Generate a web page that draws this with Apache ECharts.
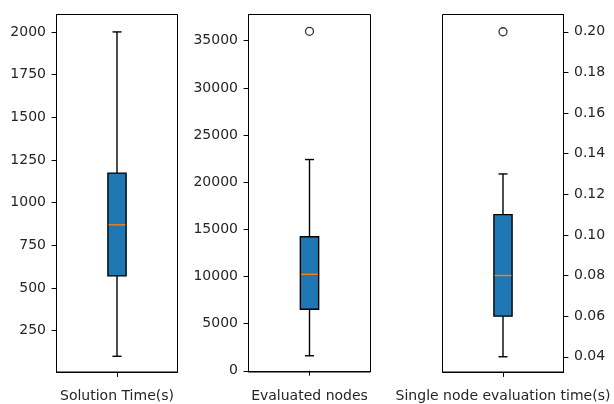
<!DOCTYPE html>
<html><head><meta charset="utf-8">
<script src="https://cdn.jsdelivr.net/npm/echarts@6/dist/echarts.min.js"></script>
<style>html,body{margin:0;padding:0;background:#fff}#c{width:614px;height:404px}</style>
</head><body><div id="c"></div>
<script>
const categories = ['Solution Time(s)', 'Evaluated nodes', 'Single node evaluation time(s)'];
// box stats: [lower whisker, Q1, median, Q3, upper whisker]
const solutionTime = [100, 571, 870, 1173, 2000];
const evaluatedNodes = [1590, 6530, 10230, 14220, 22400];
const singleNodeTime = [0.04, 0.06, 0.08, 0.11, 0.13];
const solutionOutliers = [];
const nodesOutliers = [36000];
const singleOutliers = [0.20];
const solutionTicks = [250, 500, 750, 1000, 1250, 1500, 1750, 2000];
const nodesTicks = [0, 5000, 10000, 15000, 20000, 25000, 30000, 35000];
const singleTicks = [0.04, 0.06, 0.08, 0.10, 0.12, 0.14, 0.16, 0.18, 0.20];

const FONT = 'DejaVu Sans';
const FS = 14;
const TXT = '#262626';

const panels = [
  {cat: categories[0], stats: solutionTime, out: solutionOutliers, ticks: solutionTicks, min: 8, max: 2102, side: 'left', fmt: v => String(v)},
  {cat: categories[1], stats: evaluatedNodes, out: nodesOutliers, ticks: nodesTicks, min: -130, max: 37780, side: 'left', fmt: v => String(v)},
  {cat: categories[2], stats: singleNodeTime, out: singleOutliers, ticks: singleTicks, min: 0.0325, max: 0.2085, side: 'right', fmt: v => Number(v).toFixed(2)}
];
const gridPos = [
  {left: 56.5, width: 121},
  {left: 248.5, width: 122},
  {left: 442.5, width: 121}
];

function renderBox(params, api) {
  const x = api.value(0);
  const lo = api.coord([x, api.value(1)]);
  const q1 = api.coord([x, api.value(2)]);
  const md = api.coord([x, api.value(3)]);
  const q3 = api.coord([x, api.value(4)]);
  const hi = api.coord([x, api.value(5)]);
  const band = api.size([1, 0])[0];
  const bw = band * 0.15;
  const cw = bw / 2;
  const cx = lo[0];
  const ls = {stroke: '#000', lineWidth: 1.4, fill: null};
  return {
    type: 'group',
    children: [
      {type: 'line', shape: {x1: cx, y1: q3[1], x2: cx, y2: hi[1]}, style: ls},
      {type: 'line', shape: {x1: cx, y1: q1[1], x2: cx, y2: lo[1]}, style: ls},
      {type: 'line', shape: {x1: cx - cw / 2, y1: hi[1], x2: cx + cw / 2, y2: hi[1]}, style: ls},
      {type: 'line', shape: {x1: cx - cw / 2, y1: lo[1], x2: cx + cw / 2, y2: lo[1]}, style: ls},
      {type: 'rect', shape: {x: cx - bw / 2, y: q3[1], width: bw, height: q1[1] - q3[1]}, style: {fill: '#1f77b4', stroke: '#000', lineWidth: 1.4}},
      {type: 'line', shape: {x1: cx - bw / 2 + 0.7, y1: md[1], x2: cx + bw / 2 - 0.7, y2: md[1]}, style: {stroke: '#ff7f0e', lineWidth: 1.4}}
    ]
  };
}

const option = {
  animation: false,
  backgroundColor: '#fff',
  textStyle: {fontFamily: FONT},
  grid: gridPos.map(g => ({left: g.left, width: g.width, top: 14.5, height: 357.5, show: true, borderColor: '#000', borderWidth: 1, backgroundColor: 'transparent', containLabel: false})),
  xAxis: panels.map((p, i) => ({
    type: 'category', gridIndex: i, data: [p.cat], boundaryGap: true,
    axisLine: {show: true, lineStyle: {color: '#000', width: 1}},
    axisTick: {show: true, alignWithLabel: true, inside: false, length: 4.9, lineStyle: {color: '#000', width: 1}},
    axisLabel: {show: true, margin: 17, fontFamily: FONT, fontSize: FS, color: TXT, interval: 0},
    splitLine: {show: false}
  })),
  yAxis: panels.map((p, i) => ({
    type: 'value', gridIndex: i, min: p.min, max: p.max, position: p.side,
    axisLine: {show: true, lineStyle: {color: '#000', width: 1}},
    axisTick: {show: true, length: 4.9, customValues: p.ticks, lineStyle: {color: '#000', width: 1}},
    axisLabel: {show: true, margin: 10.5, customValues: p.ticks, fontFamily: FONT, fontSize: FS, color: TXT, formatter: p.fmt, showMinLabel: true, showMaxLabel: true},
    splitLine: {show: false}
  })),
  series: []
};

panels.forEach((p, i) => {
  option.series.push({
    type: 'custom', xAxisIndex: i, yAxisIndex: i,
    renderItem: renderBox,
    encode: {x: 0, y: [1, 2, 3, 4, 5]},
    data: [[0].concat(p.stats)],
    z: 3
  });
  option.series.push({
    type: 'scatter', xAxisIndex: i, yAxisIndex: i,
    symbol: 'circle', symbolSize: 8,
    itemStyle: {color: 'rgba(0,0,0,0)', borderColor: '#000', borderWidth: 1.3},
    data: p.out.map(v => [0, v]),
    z: 4
  });
});

const chart = echarts.init(document.getElementById('c'), null, {renderer: 'canvas'});
chart.setOption(option);
</script>
</body></html>
